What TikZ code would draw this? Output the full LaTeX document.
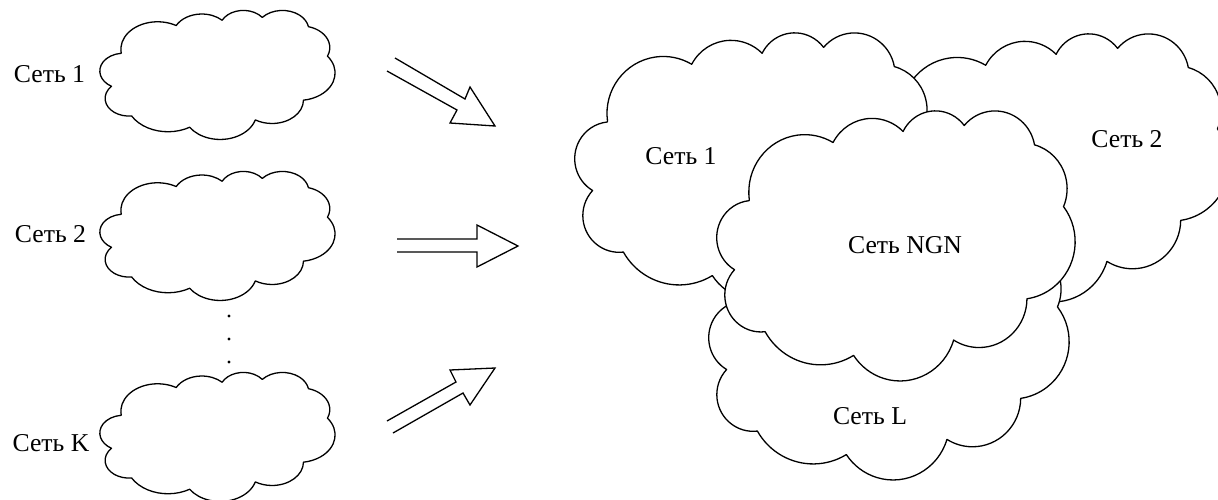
\documentclass[tikz,border=0pt]{standalone}
\usepackage{fontspec}
\setmainfont{Liberation Serif}
\tikzset{
  cloudline/.style={draw=black, line width=1.3pt, fill=white, line join=round},
  arrowline/.style={draw=black, line width=1.3pt, line join=miter},
  lbl/.style={font=\fontsize{25.7}{30}\selectfont, inner sep=0pt},
  dotmark/.style={fill=black},
}
% Word-style cloud: name, x0, y0, width, height (pixel units, y down)
\newcommand\wordcloud[5]{%
  \pgfmathsetmacro\wcsx{#4/43.2}%
  \pgfmathsetmacro\wcsy{#5/43.2}%
  \begin{scope}[shift={(#2,#3)}, xscale=\wcsx, yscale=\wcsy]
    \draw[cloudline] (3.9,14.37) coordinate (#1)
      arc[start angle=187.747, delta angle=-128.110, x radius=6.753pt, y radius=9.190pt]
      arc[start angle=152.027, delta angle=-106.567, x radius=5.333pt, y radius=7.267pt]
      arc[start angle=153.498, delta angle=-116.172, x radius=4.365pt, y radius=5.945pt]
      arc[start angle=139.713, delta angle=-129.502, x radius=4.857pt, y radius=6.595pt]
      arc[start angle=74.768, delta angle=-97.977, x radius=5.333pt, y radius=7.273pt]
      arc[start angle=37.523, delta angle=-119.386, x radius=6.775pt, y radius=9.220pt]
      arc[start angle=-0.460, delta angle=-121.518, x radius=5.785pt, y radius=7.867pt]
      arc[start angle=-16.844, delta angle=-129.373, x radius=6.752pt, y radius=9.215pt]
      arc[start angle=-58.986, delta angle=-91.192, x radius=7.720pt, y radius=10.543pt]
      arc[start angle=276.694, delta angle=-139.792, x radius=4.360pt, y radius=5.918pt]
      arc[start angle=239.641, delta angle=-143.754, x radius=4.345pt, y radius=5.945pt]
      -- cycle;
  \end{scope}}
\begin{document}
\begin{tikzpicture}[x=1pt, y=-1pt]
  \useasboundingbox (0,0) rectangle (1218,499);

  % small clouds
  \wordcloud{c1}{100}{10}{235}{129}
  \wordcloud{c2}{100}{171}{235}{129}
  \wordcloud{ck}{100}{372}{235}{129}

  \node[lbl] (l1) at (49.5,74) {Сеть 1};
  \node[lbl] (l2) at (50.5,234) {Сеть 2};
  \node[lbl] (lk) at (51,443) {Сеть K};

  % vertical dots
  \fill[dotmark] (229,316) circle[radius=1.7pt];
  \fill[dotmark] (229,339) circle[radius=1.7pt];
  \fill[dotmark] (229,362) circle[radius=1.7pt];

  % arrows
  \draw[arrowline] (395,58) -- (465,99) -- (470,87) -- (495,126) -- (450,123) -- (457,110) -- (387,71);
  \draw[arrowline] (397,239) -- (477,239) -- (477,225) -- (518,246) -- (477,267) -- (477,252) -- (397,252);
  \draw[arrowline] (393,433) -- (463,393) -- (470,405) -- (495,368) -- (450,370) -- (456,382) -- (387,421);

  % big clouds (back to front)
  \wordcloud{b2}{869}{33}{360}{268}
  \wordcloud{b1}{575}{32}{360}{268}
  \wordcloud{bl}{709}{211}{360}{268}
  \wordcloud{bn}{717}{110}{358}{270}

  \node[lbl] (n1) at (681,156) {Сеть 1};
  \node[lbl] (n2) at (1127,139) {Сеть 2};
  \node[lbl] (nn) at (905,245) {Сеть NGN};
  \node[lbl] (nl) at (870,416) {Сеть L};
\end{tikzpicture}
\end{document}
